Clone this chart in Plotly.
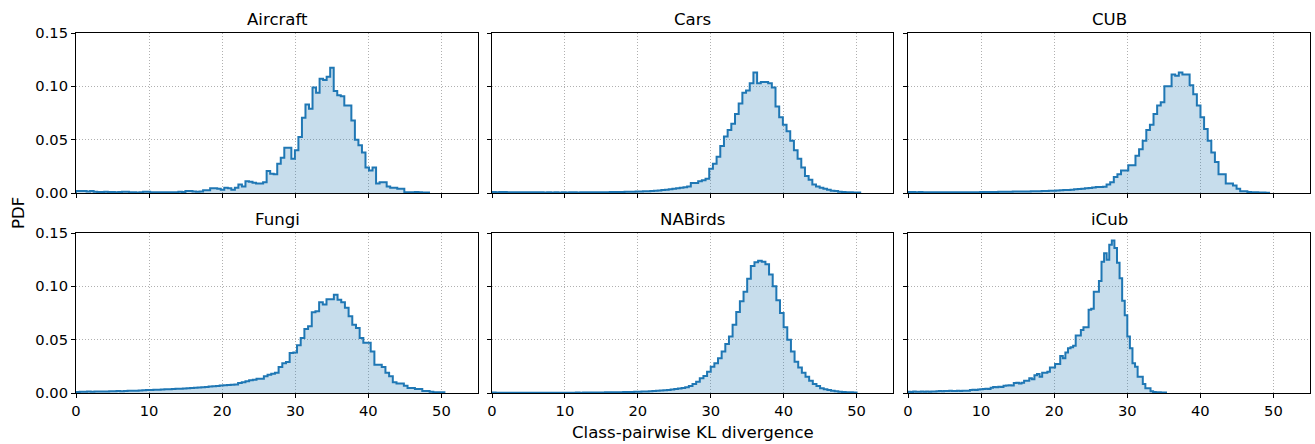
import numpy as np
import plotly.graph_objects as go

titles = ["Aircraft", "Cars", "CUB", "Fungi", "NABirds", "iCub"]
# upper edge of the histogram range (100 equal bins from 0)
bin_max = [48.3, 50.5, 49.4, 50.4, 50.0, 35.3]

aircraft = [0.0019, 0.0019, 0.0019, 0.0015, 0.0019, 0.0012, 0.0010, 0.0010, 0.0012, 0.0010,
            0.0010, 0.0008, 0.0010, 0.0012, 0.0012, 0.0006, 0.0006, 0.0004, 0.0006, 0.0012,
            0.0012, 0.0008, 0.0006, 0.0006, 0.0008, 0.0006, 0.0008, 0.0006, 0.0008, 0.0012,
            0.0010, 0.0019, 0.0019, 0.0015, 0.0012, 0.0015, 0.0025, 0.0025, 0.0044, 0.0044,
            0.0040, 0.0030, 0.0050, 0.0045, 0.0030, 0.0050, 0.0080, 0.0060, 0.0110, 0.0105,
            0.0095, 0.0090, 0.0088, 0.0100, 0.0206, 0.0180, 0.0175, 0.0275, 0.0330, 0.0425,
            0.0425, 0.0320, 0.0400, 0.0525, 0.0706, 0.0830, 0.0790, 0.0990, 0.0940, 0.1070,
            0.1060, 0.1090, 0.1175, 0.0956, 0.0916, 0.0906, 0.0820, 0.0820, 0.0680, 0.0500,
            0.0447, 0.0380, 0.0240, 0.0210, 0.0240, 0.0090, 0.0100, 0.0100, 0.0060, 0.0050,
            0.0050, 0.0040, 0.0040, 0.0008, 0.0008, 0.0008, 0.0010, 0.0006, 0.0004, 0.0004]

cars = [0.0010, 0.0008, 0.0010, 0.0009, 0.0008, 0.0007, 0.0008, 0.0007, 0.0006, 0.0007,
        0.0006, 0.0007, 0.0006, 0.0006, 0.0005, 0.0006, 0.0005, 0.0006, 0.0005, 0.0006,
        0.0005, 0.0006, 0.0006, 0.0005, 0.0006, 0.0006, 0.0007, 0.0006, 0.0007, 0.0007,
        0.0008, 0.0008, 0.0009, 0.0009, 0.0010, 0.0010, 0.0011, 0.0012, 0.0012, 0.0013,
        0.0014, 0.0016, 0.0017, 0.0019, 0.0021, 0.0024, 0.0027, 0.0030, 0.0035, 0.0040,
        0.0045, 0.0050, 0.0055, 0.0062, 0.0094, 0.0094, 0.0110, 0.0120, 0.0134, 0.0228,
        0.0275, 0.0340, 0.0440, 0.0530, 0.0590, 0.0650, 0.0740, 0.0840, 0.0940, 0.0960,
        0.1030, 0.1130, 0.1030, 0.1040, 0.1040, 0.1030, 0.0990, 0.0810, 0.0710, 0.0640,
        0.0580, 0.0490, 0.0400, 0.0320, 0.0240, 0.0160, 0.0125, 0.0080, 0.0060, 0.0050,
        0.0040, 0.0030, 0.0022, 0.0018, 0.0012, 0.0010, 0.0008, 0.0006, 0.0005, 0.0004]

cub = [0.0010, 0.0009, 0.0008, 0.0009, 0.0008, 0.0007, 0.0008, 0.0007, 0.0007, 0.0006,
       0.0007, 0.0006, 0.0006, 0.0007, 0.0006, 0.0007, 0.0007, 0.0008, 0.0008, 0.0008,
       0.0009, 0.0009, 0.0010, 0.0010, 0.0010, 0.0011, 0.0011, 0.0012, 0.0012, 0.0013,
       0.0013, 0.0014, 0.0014, 0.0015, 0.0016, 0.0016, 0.0017, 0.0018, 0.0019, 0.0020,
       0.0022, 0.0023, 0.0025, 0.0027, 0.0029, 0.0031, 0.0034, 0.0037, 0.0040, 0.0044,
       0.0048, 0.0052, 0.0056, 0.0056, 0.0058, 0.0080, 0.0100, 0.0150, 0.0175, 0.0210,
       0.0210, 0.0260, 0.0260, 0.0350, 0.0410, 0.0490, 0.0590, 0.0640, 0.0740, 0.0820,
       0.0850, 0.1000, 0.1000, 0.1110, 0.1100, 0.1130, 0.1110, 0.1110, 0.1010, 0.0925,
       0.0820, 0.0710, 0.0600, 0.0490, 0.0380, 0.0290, 0.0175, 0.0175, 0.0088, 0.0088,
       0.0070, 0.0040, 0.0016, 0.0016, 0.0010, 0.0008, 0.0006, 0.0005, 0.0004, 0.0003]

fungi = [0.0010, 0.0012, 0.0011, 0.0013, 0.0012, 0.0014, 0.0013, 0.0015, 0.0014, 0.0016,
         0.0016, 0.0018, 0.0017, 0.0019, 0.0020, 0.0021, 0.0022, 0.0024, 0.0025, 0.0027,
         0.0028, 0.0030, 0.0031, 0.0033, 0.0034, 0.0036, 0.0038, 0.0040, 0.0041, 0.0043,
         0.0045, 0.0047, 0.0049, 0.0051, 0.0054, 0.0057, 0.0060, 0.0063, 0.0066, 0.0070,
         0.0072, 0.0075, 0.0078, 0.0080, 0.0094, 0.0100, 0.0110, 0.0119, 0.0125, 0.0134,
         0.0134, 0.0156, 0.0172, 0.0180, 0.0190, 0.0244, 0.0280, 0.0290, 0.0375, 0.0380,
         0.0447, 0.0516, 0.0600, 0.0625, 0.0756, 0.0766, 0.0850, 0.0830, 0.0880, 0.0880,
         0.0920, 0.0875, 0.0850, 0.0800, 0.0720, 0.0640, 0.0610, 0.0516, 0.0470, 0.0470,
         0.0390, 0.0266, 0.0266, 0.0244, 0.0190, 0.0156, 0.0100, 0.0088, 0.0088, 0.0069,
         0.0047, 0.0047, 0.0038, 0.0038, 0.0019, 0.0019, 0.0012, 0.0008, 0.0006, 0.0006]

nabirds = [0.0004, 0.0003, 0.0003, 0.0003, 0.0003, 0.0002, 0.0003, 0.0002, 0.0002, 0.0002,
           0.0002, 0.0003, 0.0002, 0.0002, 0.0003, 0.0002, 0.0002, 0.0003, 0.0002, 0.0003,
           0.0003, 0.0003, 0.0003, 0.0004, 0.0003, 0.0004, 0.0004, 0.0004, 0.0005, 0.0005,
           0.0005, 0.0006, 0.0006, 0.0007, 0.0007, 0.0008, 0.0009, 0.0009, 0.0010, 0.0011,
           0.0012, 0.0013, 0.0014, 0.0016, 0.0018, 0.0020, 0.0023, 0.0026, 0.0029, 0.0033,
           0.0037, 0.0042, 0.0047, 0.0053, 0.0066, 0.0084, 0.0106, 0.0138, 0.0160, 0.0200,
           0.0247, 0.0280, 0.0325, 0.0390, 0.0460, 0.0530, 0.0640, 0.0760, 0.0860, 0.0950,
           0.1070, 0.1190, 0.1225, 0.1240, 0.1230, 0.1206, 0.1110, 0.1000, 0.0870, 0.0750,
           0.0616, 0.0500, 0.0390, 0.0294, 0.0240, 0.0190, 0.0153, 0.0116, 0.0084, 0.0066,
           0.0044, 0.0035, 0.0028, 0.0022, 0.0016, 0.0012, 0.0009, 0.0007, 0.0006, 0.0005]

icub = [0.0012, 0.0010, 0.0013, 0.0011, 0.0012, 0.0014, 0.0012, 0.0013, 0.0011, 0.0014,
        0.0013, 0.0016, 0.0018, 0.0017, 0.0019, 0.0018, 0.0020, 0.0019, 0.0018, 0.0021,
        0.0019, 0.0020, 0.0022, 0.0021, 0.0028, 0.0030, 0.0029, 0.0032, 0.0036, 0.0038,
        0.0040, 0.0037, 0.0050, 0.0056, 0.0054, 0.0058, 0.0056, 0.0068, 0.0070, 0.0072,
        0.0070, 0.0094, 0.0097, 0.0090, 0.0095, 0.0116, 0.0116, 0.0138, 0.0130, 0.0166,
        0.0178, 0.0153, 0.0190, 0.0190, 0.0200, 0.0240, 0.0240, 0.0272, 0.0272, 0.0347,
        0.0325, 0.0380, 0.0420, 0.0430, 0.0444, 0.0540, 0.0540, 0.0590, 0.0616, 0.0616,
        0.0780, 0.0790, 0.0950, 0.0950, 0.1050, 0.1230, 0.1310, 0.1250, 0.1390, 0.1430,
        0.1360, 0.1220, 0.1075, 0.0866, 0.0730, 0.0530, 0.0420, 0.0280, 0.0247, 0.0153,
        0.0153, 0.0084, 0.0044, 0.0044, 0.0016, 0.0010, 0.0006, 0.0006, 0.0005, 0.0004]

series = [aircraft, cars, cub, fungi, nabirds, icub]

x_ticks = [0, 10, 20, 30, 40, 50]
y_ticks = [0.0, 0.05, 0.10, 0.15]

W, H = 1315, 444
cols_px = [(76, 478), (492, 893), (908, 1310)]
rows_px = [(33, 193), (233, 393)]

LINE = "#1f77b4"
FILL = "rgba(31,119,180,0.25)"
FONT = "DejaVu Sans"
TICK_SIZE = 14.7
TITLE_SIZE = 16.6

fig = go.Figure()
annotations = []
layout_axes = {}

for k, (name, vals, m) in enumerate(zip(titles, series, bin_max)):
    r, c = divmod(k, 3)
    suffix = "" if k == 0 else str(k + 1)
    n = len(vals)
    edges = np.linspace(0.0, m, n + 1)
    xs = np.concatenate([[edges[0]], edges, [edges[-1]]])
    ys = np.concatenate([[0.0], vals, [vals[-1], 0.0]])
    fig.add_trace(go.Scatter(
        x=xs, y=ys, mode="lines", line=dict(color=LINE, width=2, shape="hv"),
        fill="tozeroy", fillcolor=FILL, xaxis="x" + suffix, yaxis="y" + suffix,
        showlegend=False, hoverinfo="skip"))

    x0, x1 = cols_px[c]
    y0, y1 = rows_px[r]
    xd = [x0 / W, x1 / W]
    yd = [1 - y1 / H, 1 - y0 / H]
    common = dict(showline=True, mirror=True, linecolor="black", linewidth=1.1,
                  ticks="outside", ticklen=4, tickwidth=1.1, tickcolor="black",
                  showgrid=True, gridcolor="#b0b0b0", griddash="1px,2px", gridwidth=1,
                  zeroline=False, automargin=False,
                  tickfont=dict(family=FONT, size=TICK_SIZE, color="black"))
    layout_axes["xaxis" + suffix] = dict(
        domain=xd, anchor="y" + suffix, range=[0, 55], tickvals=x_ticks,
        showticklabels=(r == 1), **common)
    layout_axes["yaxis" + suffix] = dict(
        domain=yd, anchor="x" + suffix, range=[0, 0.15], tickvals=y_ticks,
        tickformat=".2f", showticklabels=(c == 0), **common)
    annotations.append(dict(
        text=name, xref="paper", yref="paper", x=(xd[0] + xd[1]) / 2, y=yd[1],
        xanchor="center", yanchor="bottom", yshift=2, showarrow=False,
        font=dict(family=FONT, size=TITLE_SIZE, color="black")))

annotations.append(dict(
    text="Class-pairwise KL divergence", xref="paper", yref="paper",
    x=(cols_px[0][0] + cols_px[2][1]) / 2 / W, y=1 - 432 / H,
    xanchor="center", yanchor="middle", showarrow=False,
    font=dict(family=FONT, size=TITLE_SIZE, color="black")))
annotations.append(dict(
    text="PDF", xref="paper", yref="paper", x=18 / W, y=1 - 213 / H,
    xanchor="center", yanchor="middle", textangle=-90, showarrow=False,
    font=dict(family=FONT, size=TITLE_SIZE, color="black")))

fig.update_layout(
    width=W, height=H, margin=dict(l=0, r=0, t=0, b=0),
    paper_bgcolor="white", plot_bgcolor="white",
    annotations=annotations, **layout_axes)

fig.write_html(
    "out.html",
    config={"responsive": False, "displayModeBar": False},
    post_script="document.body.style.margin='0';document.body.style.overflow='hidden';",
)
